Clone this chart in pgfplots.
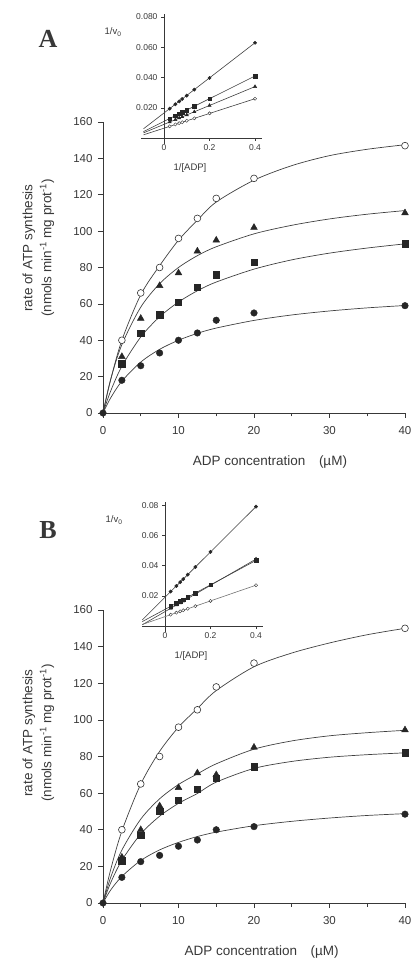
\documentclass[border=0pt]{standalone}
\usepackage{pgfplots}
\pgfplotsset{compat=1.18}
\usepackage{fontspec}
\setmainfont{Liberation Sans}
\newfontfamily\letterfont{Liberation Serif}
\definecolor{ink}{gray}{0.22}
\pgfplotsset{
  mainax/.style={
    scale only axis, width=302pt, anchor=south west,
    xmin=0, xmax=40, ymin=0, ymax=160,
    axis lines=left, axis line style={-, ink, line width=0.7pt},
    xtick={0,10,20,30,40}, minor xtick={5,15,25,35},
    ytick={0,20,...,160},
    tick align=outside, major tick length=5pt, minor tick length=3.5pt,
    tick style={ink, line width=0.6pt},
    ticklabel style={font=\fontsize{11.5}{12}\selectfont, text=ink},
    xticklabel style={yshift=-5pt},
    yticklabel style={xshift=-2pt},
    /pgf/number format/assume math mode=true,
    xlabel={ADP concentration\quad (µM)},
    xlabel style={font=\fontsize{13.5}{14}\selectfont, text=ink, anchor=center},
    ylabel={rate of ATP synthesis\\(nmols min\textsuperscript{-1} mg prot\textsuperscript{-1})},
    ylabel style={font=\fontsize{13.5}{19}\selectfont, text=ink, align=center, anchor=center},
    clip=false,
  },
  inax/.style={
    scale only axis, width=120.6pt, height=130pt, anchor=south west,
    xmin=-0.1, xmax=0.43, ymin=-0.004, ymax=0.082,
    axis lines=middle, axis line style={-, ink, line width=0.6pt},
    hide obscured x ticks=false, hide obscured y ticks=false,
    xtick={0,0.2,0.4}, xticklabels={0,0.2,0.4},
    ytick={0.02,0.04,0.06,0.08},
    scaled y ticks=false,
    tick align=outside, major tick length=3pt,
    tick style={ink, line width=0.5pt},
    ticklabel style={font=\fontsize{8.5}{9}\selectfont, text=ink},
    every axis x label/.style={at={(axis description cs:0.404,-0.184)}, anchor=center, font=\fontsize{9.5}{10}\selectfont, text=ink},
    every axis y label/.style={at={(axis description cs:-0.234,0.862)}, anchor=center, font=\fontsize{9.5}{10}\selectfont, text=ink},
    xlabel={1/[ADP]}, ylabel={1/v\textsubscript{0}},
    clip=false,
  },
  fit/.style={black!75, line width=0.7pt, smooth, no marks},
  pO/.style={only marks, mark=*, mark size=3.4pt, mark options={fill=white, draw=black!80, line width=0.6pt}},
  pT/.style={only marks, mark=triangle*, mark size=3.9pt, mark options={fill=black!85, draw=black!85}},
  pS/.style={only marks, mark=square*, mark size=3.2pt, mark options={fill=black!85, draw=black!85}},
  pC/.style={only marks, mark=*, mark size=3.3pt, mark options={fill=black!85, draw=black!85}},
  lin/.style={black!75, line width=0.6pt, no marks},
  iO/.style={only marks, mark=*, mark size=1.6pt, mark options={fill=white, draw=black!80, line width=0.4pt}},
  iT/.style={only marks, mark=triangle*, mark size=1.9pt, mark options={fill=black!85, draw=black!85}},
  iS/.style={only marks, mark=square*, mark size=1.7pt, mark options={fill=black!85, draw=black!85}},
  iC/.style={only marks, mark=*, mark size=1.7pt, mark options={fill=black!85, draw=black!85}},
}
\begin{document}
\begin{tikzpicture}
\useasboundingbox (0pt,0pt) rectangle (414pt,961pt);
\node[font=\letterfont\bfseries\fontsize{26}{26}\selectfont, text=ink] at (48pt,922pt) {A};
\node[font=\letterfont\bfseries\fontsize{26}{26}\selectfont, text=ink] at (48pt,431pt) {B};

% ---------- Panel A main ----------
\begin{axis}[mainax, at={(103pt,548pt)}, height=291pt,
  xlabel style={at={(axis description cs:0.553,-0.168)}},
  ylabel style={at={(axis description cs:-0.2136,0.567)}}]
\addplot[fit] coordinates {(0,0)(1,18)(2.5,40)(5,65)(7.5,81)(10,95)(12.5,106)(15,116)(20,128)(25,136)(30,141.5)(35,145)(40,147.5)};
\addplot[fit] coordinates {(0,0)(1,18.3)(2.5,37.6)(5,58.2)(7.5,71.1)(10,80)(12.5,86.5)(15,91.4)(20,98.5)(25,103.2)(30,106.7)(35,109.3)(40,111.3)};
\addplot[fit] coordinates {(0,0)(1,11.9)(2.5,25.7)(5,41.8)(7.5,52.9)(10,61.0)(12.5,67.2)(15,72.0)(20,79.1)(25,84.2)(30,87.9)(35,90.7)(40,93.0)};
\addplot[fit] coordinates {(0,0)(1,8.2)(2.5,17.5)(5,28.0)(7.5,35.0)(10,40.0)(12.5,43.8)(15,46.7)(20,50.9)(25,53.9)(30,56.1)(35,57.8)(40,59.1)};
\addplot[pC] coordinates {(0,0)(2.5,18)(5,26)(7.5,33)(10,40)(12.5,44)(15,51)(20,55)(40,59)};
\addplot[pS] coordinates {(2.5,27)(5,44)(7.5,54)(10,61)(12.5,69)(15,76)(20,83)(40,93)};
\addplot[pT] coordinates {(2.5,31)(5,52)(7.5,70)(10,77)(12.5,89)(15,95)(20,102)(40,110)};
\addplot[pO] coordinates {(2.5,40)(5,66)(7.5,80)(10,96)(12.5,107)(15,118)(20,129)(40,147)};
\end{axis}

% ---------- Panel A inset ----------
\begin{axis}[inax, at={(141.25pt,816.95pt)}, yticklabels={0.020,0.040,0.060,0.080}]
\addplot[lin] coordinates {(-0.09,0.0061)(0.4,0.063)};
\addplot[lin] coordinates {(-0.09,0.00425)(0.4,0.041)};
\addplot[lin] coordinates {(-0.09,0.0034)(0.4,0.034)};
\addplot[lin] coordinates {(-0.09,0.0021)(0.4,0.026)};
\addplot[iC] coordinates {(0.4,0.063)(0.2,0.0397)(0.1333,0.032)(0.1,0.028)(0.08,0.0258)(0.0667,0.0242)(0.05,0.0223)(0.025,0.0194)};
\addplot[iS] coordinates {(0.4,0.041)(0.2,0.026)(0.1333,0.021)(0.1,0.0185)(0.08,0.017)(0.0667,0.016)(0.05,0.0148)(0.025,0.0129)};
\addplot[iT] coordinates {(0.4,0.034)(0.2,0.0215)(0.1333,0.0173)(0.1,0.0153)(0.08,0.014)(0.0667,0.0132)(0.05,0.0121)(0.025,0.0106)};
\addplot[iO] coordinates {(0.4,0.026)(0.2,0.0163)(0.1333,0.0130)(0.1,0.0114)(0.08,0.0104)(0.0667,0.0098)(0.05,0.0090)(0.025,0.0077)};
\end{axis}

% ---------- Panel B main ----------
\begin{axis}[mainax, at={(103pt,58pt)}, height=293pt,
  xlabel style={at={(axis description cs:0.525,-0.167)}},
  ylabel style={at={(axis description cs:-0.2136,0.58)}}]
\addplot[fit] coordinates {(0,0)(1,18.0)(2.5,39.3)(5,64.9)(7.5,82.8)(10,96.0)(12.5,106.2)(15,116)(20,129)(25,136.5)(30,142)(35,146.5)(40,150)};
\addplot[fit] coordinates {(0,0)(1,13.8)(2.5,28.9)(5,45.8)(7.5,56.9)(10,64.7)(12.5,70.5)(15,76)(20,84)(25,88.5)(30,91.3)(35,93)(40,94.3)};
\addplot[fit] coordinates {(0,0)(1,10.9)(2.5,23.3)(5,37.7)(7.5,47.4)(10,54.4)(12.5,59.8)(15,66)(20,73.5)(25,77.3)(30,79.6)(35,81)(40,82)};
\addplot[fit] coordinates {(0,0)(1,7)(2.5,14.5)(5,23.2)(7.5,29)(10,33.1)(12.5,36.3)(15,38.7)(20,42.2)(25,44.6)(30,46.4)(35,47.8)(40,48.8)};
\addplot[pC] coordinates {(0,0)(2.5,14)(5,22.6)(7.5,26)(10,31)(12.5,34.4)(15,40)(20,41.7)(40,48.5)};
\addplot[pS] coordinates {(2.5,23)(5,37)(7.5,50)(10,56)(12.5,62)(15,68)(20,74.5)(40,82)};
\addplot[pT] coordinates {(2.5,25)(5,40)(7.5,53)(10,63)(12.5,71)(15,70)(20,85)(40,94.5)};
\addplot[pO] coordinates {(2.5,40)(5,65)(7.5,80)(10,96)(12.5,105.5)(15,118)(20,131)(40,150)};
\end{axis}

% ---------- Panel B inset ----------
\begin{axis}[inax, at={(142.25pt,328.95pt)}, yticklabels={0.02,0.04,0.06,0.08}]
\addplot[lin] coordinates {(-0.1,0.004)(0.4,0.079)};
\addplot[lin] coordinates {(-0.1,0.0008)(0.4,0.0443)};
\addplot[lin] coordinates {(-0.1,0.0029)(0.4,0.0434)};
\addplot[lin, black!55] coordinates {(-0.1,0.001)(0.4,0.027)};
\addplot[iC] coordinates {(0.4,0.079)(0.2,0.049)(0.1333,0.039)(0.1,0.034)(0.08,0.031)(0.0667,0.029)(0.05,0.0265)(0.025,0.0228)};
\addplot[iT] coordinates {(0.4,0.0443)(0.2,0.0269)(0.1333,0.0211)(0.1,0.0182)(0.08,0.0165)(0.0667,0.0153)(0.05,0.0139)(0.025,0.0117)};
\addplot[iS] coordinates {(0.4,0.0434)(0.2,0.0272)(0.1333,0.0218)(0.1,0.0191)(0.08,0.0175)(0.0667,0.0164)(0.05,0.0151)(0.025,0.013)};
\addplot[iO] coordinates {(0.4,0.027)(0.2,0.0166)(0.1333,0.0131)(0.1,0.0114)(0.08,0.0104)(0.0667,0.0097)(0.05,0.0088)(0.025,0.0075)};
\end{axis}
\end{tikzpicture}
\end{document}
